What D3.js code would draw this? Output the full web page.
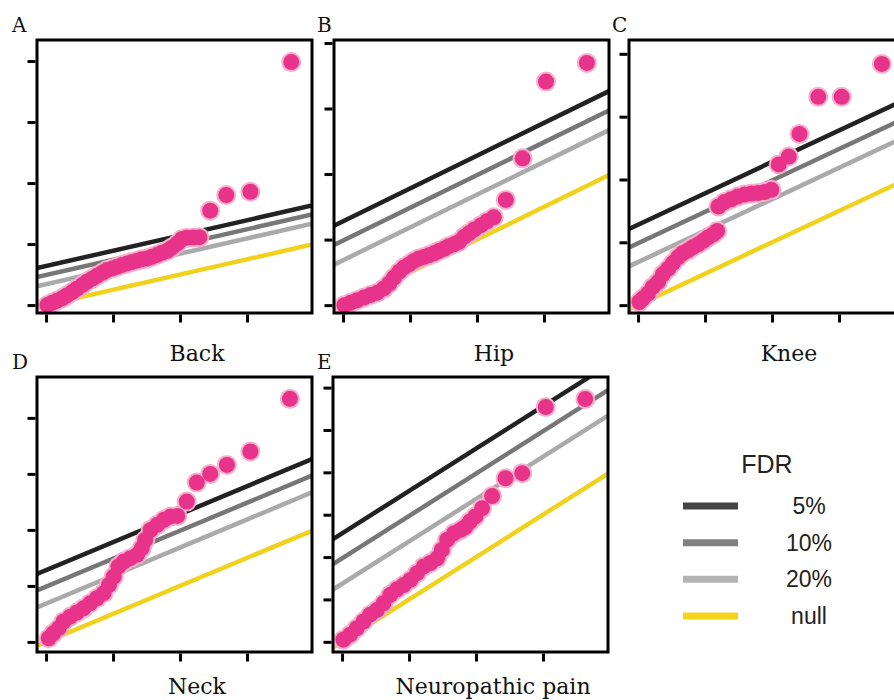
<!DOCTYPE html>
<html>
<head>
<meta charset="utf-8">
<script src="https://cdn.jsdelivr.net/npm/d3@7"></script>
<style>
  body { margin: 0; background: #fff; }
  svg { display: block; }
</style>
</head>
<body>
<div id="chart"></div>
<script>
const backExpected = [0.02,0.09,0.16,0.24,0.31,0.39,0.46,0.54,0.61,0.69,0.76,0.84,0.91,0.99,1.06,1.13,1.21,1.28,1.36,1.43,1.51,1.58,1.66,1.73,1.81,1.88,1.96,2.03,2.10,2.20,2.29,2.45,2.69,3.05,3.66];
const backObserved = [0.00,0.15,0.28,0.44,0.63,0.85,1.07,1.31,1.53,1.73,1.92,2.12,2.30,2.40,2.51,2.62,2.73,2.82,2.91,3.00,3.06,3.17,3.30,3.43,3.56,3.78,4.04,4.33,4.41,4.43,4.45,6.19,7.21,7.43,15.93];

const hipExpected = [0.02,0.11,0.21,0.31,0.41,0.51,0.61,0.69,0.76,0.84,0.91,0.99,1.06,1.13,1.21,1.28,1.36,1.43,1.51,1.58,1.66,1.73,1.81,1.88,1.96,2.06,2.15,2.25,2.43,2.68,3.03,3.64];
const hipObserved = [0.00,0.07,0.15,0.23,0.31,0.38,0.51,0.66,0.84,1.02,1.15,1.25,1.35,1.42,1.47,1.52,1.58,1.65,1.72,1.80,1.86,1.93,2.09,2.19,2.31,2.44,2.56,2.68,3.21,4.48,6.82,7.39];

const kneeExpected = [0.02,0.07,0.15,0.22,0.30,0.37,0.45,0.52,0.60,0.67,0.75,0.82,0.90,0.97,1.04,1.12,1.18,1.20,1.29,1.39,1.49,1.59,1.69,1.79,1.89,1.99,2.10,2.25,2.41,2.69,3.04,3.64];
const kneeObserved = [0.10,0.21,0.37,0.58,0.74,0.98,1.16,1.34,1.53,1.66,1.75,1.85,1.94,2.04,2.15,2.25,2.36,3.14,3.28,3.37,3.46,3.52,3.55,3.57,3.60,3.67,4.48,4.73,5.45,6.63,6.63,7.68];

const neckExpected = [0.04,0.11,0.19,0.26,0.36,0.46,0.56,0.66,0.76,0.86,0.94,1.01,1.08,1.16,1.26,1.36,1.43,1.48,1.56,1.66,1.76,1.86,1.96,2.10,2.25,2.45,2.70,3.05,3.64];
const neckObserved = [0.13,0.31,0.49,0.73,0.90,1.05,1.20,1.38,1.56,1.74,2.04,2.33,2.69,2.87,2.99,3.11,3.35,3.64,4.00,4.18,4.36,4.48,4.50,5.01,5.69,6.00,6.32,6.80,8.68];

const neuroExpected = [0.02,0.12,0.22,0.32,0.42,0.52,0.62,0.72,0.82,0.92,1.02,1.12,1.22,1.32,1.42,1.49,1.57,1.67,1.77,1.84,1.91,1.99,2.09,2.24,2.44,2.69,3.04,3.63];
const neuroObserved = [0.05,0.17,0.32,0.48,0.64,0.75,0.91,1.11,1.24,1.34,1.46,1.62,1.78,1.86,1.97,2.17,2.41,2.56,2.64,2.71,2.84,2.96,3.15,3.44,3.86,3.98,5.54,5.73];

// FDR threshold lines: observed = expected + offset
const fdrLabels = ["5%", "10%", "20%", "null"];
const fdrOffsets = [2.56, 1.97, 1.37, 0];

const xTicks = [0, 1, 2, 3];
const backYTicks = [0, 4, 8, 12, 16];
const hipYTicks = [0, 2, 4, 6, 8];
const kneeYTicks = [0, 2, 4, 6, 8];
const neckYTicks = [0, 2, 4, 6, 8];
const neuroYTicks = [0, 1, 2, 3, 4, 5, 6];

const lineColors = ["#222222", "#777777", "#aaaaaa", "#f0d21c"];
const legendColors = ["#444444", "#808080", "#b4b4b4", "#f7d31a"];

const W = 894, H = 700;
const panelW = 275;
const xDomain = [-0.135, 3.97];

const panels = [
  {letter: "A", title: "Back", xs: backExpected, ys: backObserved, yTicks: backYTicks,
   left: 37, top: 40, height: 273, yDomain: [-0.52, 17.38], letterX: 12},
  {letter: "B", title: "Hip", xs: hipExpected, ys: hipObserved, yTicks: hipYTicks,
   left: 334, top: 40, height: 273, yDomain: [-0.24, 8.09], letterX: 317},
  {letter: "C", title: "Knee", xs: kneeExpected, ys: kneeObserved, yTicks: kneeYTicks,
   left: 629, top: 40, height: 273, yDomain: [-0.25, 8.44], letterX: 612},
  {letter: "D", title: "Neck", xs: neckExpected, ys: neckObserved, yTicks: neckYTicks,
   left: 37, top: 377, height: 275, yDomain: [-0.36, 9.46], letterX: 12},
  {letter: "E", title: "Neuropathic pain", xs: neuroExpected, ys: neuroObserved, yTicks: neuroYTicks,
   left: 333, top: 377, height: 275, yDomain: [-0.24, 6.25], letterX: 317}
];

const svg = d3.select("#chart").append("svg")
    .attr("width", W)
    .attr("height", H);

svg.append("rect").attr("width", W).attr("height", H).attr("fill", "#fff");

function drawPanel(p, i) {
  const x = d3.scaleLinear().domain(xDomain).range([p.left, p.left + panelW]);
  const y = d3.scaleLinear().domain(p.yDomain).range([p.top + p.height, p.top]);

  const clipId = "clip" + i;
  svg.append("clipPath").attr("id", clipId)
    .append("rect")
      .attr("x", p.left).attr("y", p.top)
      .attr("width", panelW).attr("height", p.height);

  // threshold lines, drawn null first so the 5% line sits on top
  const lines = fdrOffsets.map((off, k) => ({off, color: lineColors[k]})).reverse();
  svg.append("g").attr("clip-path", `url(#${clipId})`)
    .selectAll("line")
    .data(lines)
    .enter().append("line")
      .attr("x1", x(xDomain[0]))
      .attr("y1", d => y(xDomain[0] + d.off))
      .attr("x2", x(xDomain[1]))
      .attr("y2", d => y(xDomain[1] + d.off))
      .attr("stroke", d => d.color)
      .attr("stroke-width", 4.5);

  const pts = p.xs.map((v, k) => ({x: v, y: p.ys[k]}));
  const g = svg.append("g");
  g.selectAll(".halo")
    .data(pts)
    .enter().append("circle")
      .attr("cx", d => x(d.x))
      .attr("cy", d => y(d.y))
      .attr("r", 10)
      .attr("fill", "#f6b0cc");
  g.selectAll(".dot")
    .data(pts)
    .enter().append("circle")
      .attr("cx", d => x(d.x))
      .attr("cy", d => y(d.y))
      .attr("r", 8)
      .attr("fill", "#e8338b");

  // frame
  svg.append("rect")
    .attr("x", p.left).attr("y", p.top)
    .attr("width", panelW).attr("height", p.height)
    .attr("fill", "none")
    .attr("stroke", "#000")
    .attr("stroke-width", 3);

  const xAxis = svg.append("g")
    .attr("transform", `translate(0,${p.top + p.height + 1.5})`)
    .call(d3.axisBottom(x).tickValues(xTicks).tickSize(8).tickFormat(""));
  const yAxis = svg.append("g")
    .attr("transform", `translate(${p.left - 1.5},0)`)
    .call(d3.axisLeft(y).tickValues(p.yTicks).tickSize(8).tickFormat(""));
  [xAxis, yAxis].forEach(a => {
    a.select(".domain").remove();
    a.selectAll(".tick line").attr("stroke", "#000").attr("stroke-width", 3);
  });

  svg.append("text")
    .attr("x", p.letterX)
    .attr("y", p.top - 8)
    .attr("font-family", "DejaVu Serif, serif")
    .attr("font-size", 20)
    .attr("fill", "#111")
    .text(p.letter);

  svg.append("text")
    .attr("x", p.left + 160)
    .attr("y", p.top + p.height + (p.top < 100 ? 48 : 42))
    .attr("text-anchor", "middle")
    .attr("font-family", "DejaVu Serif, serif")
    .attr("font-size", 22)
    .attr("fill", "#111")
    .text(p.title);
}

panels.forEach(drawPanel);

// legend
const legend = svg.append("g");
legend.append("text")
  .attr("x", 767).attr("y", 473)
  .attr("text-anchor", "middle")
  .attr("font-family", "Liberation Sans, Arial, sans-serif")
  .attr("font-size", 25)
  .attr("fill", "#222")
  .text("FDR");

const ly = d3.scalePoint().domain(fdrLabels).range([506, 616]);
const items = legend.selectAll(".item")
  .data(fdrLabels)
  .enter().append("g");
items.append("line")
  .attr("x1", 683).attr("x2", 738)
  .attr("y1", d => ly(d)).attr("y2", d => ly(d))
  .attr("stroke", (d, k) => legendColors[k])
  .attr("stroke-width", 7);
items.append("text")
  .attr("x", 809)
  .attr("y", d => ly(d) + 8)
  .attr("text-anchor", "middle")
  .attr("font-family", "Liberation Sans, Arial, sans-serif")
  .attr("font-size", 23)
  .attr("fill", "#222")
  .text(d => d);
</script>
</body>
</html>
